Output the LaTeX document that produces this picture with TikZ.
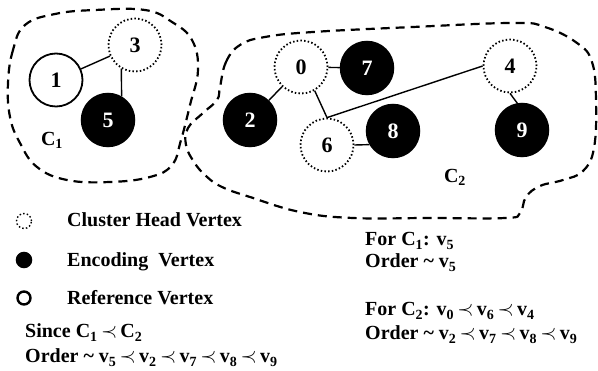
\documentclass[tikz,border=0pt]{standalone}
\usepackage{fontspec}
\setmainfont{Liberation Serif}
\newcommand{\vtx}[1]{v\textsubscript{#1}}
\newcommand{\precsym}{\,$\prec$\,}

\begin{document}
\begin{tikzpicture}[
  x=1pt, y=-1pt,
  font=\bfseries\fontsize{20}{22}\selectfont,
  vertex/.style={circle, draw, minimum size=53pt, inner sep=0pt, line width=1.5pt,
    font=\bfseries\fontsize{22}{22}\selectfont},
  headvertex/.style={vertex, dash pattern=on 1.5pt off 2.2pt, line width=1.8pt},
  codevertex/.style={vertex, fill=black, text=white},
  refvertex/.style={vertex, line width=1.8pt},
  edge/.style={line width=1.4pt},
  cluster/.style={line width=2.2pt, dash pattern=on 9pt off 6pt},
  caption/.style={anchor=base west, inner sep=0pt}
]
  \useasboundingbox (0,0) rectangle (598,371);

  % The two clusters drawn as loose dashed outlines.
  \draw[cluster] plot[smooth cycle, tension=0.7] coordinates {
    (25,25) (13,50) (8,83) (10,117) (20,143) (37,167) (67,180) (110,182)
    (150,177) (172,165) (181,140) (190,105) (198,70) (192,40) (172,22)
    (145,10) (95,10) (55,14)};
  \draw[cluster] plot[smooth cycle, tension=0.7] coordinates {
    (220,87) (226,62) (240,45) (265,37) (313,32) (413,27) (513,23) (545,27)
    (577,43) (592,62) (596,100) (594,148) (583,171) (563,180) (540,186)
    (526,197) (520,213) (505,218) (430,218) (353,218) (300,212) (250,197)
    (222,187) (206,176) (194,162) (186,145) (188,128) (203,113) (217,100)};

  \node (c1label) at (52,140) {C\textsubscript{1}};
  \node (c2label) at (455,177) {C\textsubscript{2}};

  % Cluster heads, encoding vertices and the single reference vertex.
  \foreach \n/\x/\y in {3/135/45, 0/301/67, 6/327/145, 4/510/66} {
    \node[headvertex] (v\n) at (\x,\y) {\n};
  }
  \foreach \n/\x/\y in {5/108/120, 2/250/120, 7/367/68, 8/393/131, 9/522/130} {
    \node[codevertex] (v\n) at (\x,\y) {\n};
  }
  \node[refvertex] (v1) at (56,80) {1};

  \draw[edge] (v1) -- (v3);
  \draw[edge] (v3.240) -- (v5.60);
  \draw[edge] (v0) -- (v2);
  \draw[edge] (v0) -- (v7);
  \draw[edge] (v0.300) -- (v6.north);
  \draw[edge] (v4.west) -- (v6.north);
  \draw[edge] (v6.east) -- (v8.210);
  \draw[edge] (v4.south) -- (v9.100);

  % Key.
  \node[headvertex, minimum size=15pt, line width=1.4pt] (keyhead) at (24,221) {};
  \node[codevertex, minimum size=15pt] (keycode) at (24,260) {};
  \node[refvertex, minimum size=13pt, line width=2.4pt] (keyref) at (24,298) {};
  \node[caption] (keyheadtext) at (67,227) {Cluster Head Vertex};
  \node[caption] (keycodetext) at (67,267) {Encoding\ \ Vertex};
  \node[caption] (keyreftext) at (67,305) {Reference Vertex};

  % Orderings.
  \node[caption] (since) at (25,338) {Since C\textsubscript{1}\precsym C\textsubscript{2}};
  \node[caption] (order) at (25,363)
    {Order \textasciitilde\ \vtx{5}\precsym\vtx{2}\precsym\vtx{7}\precsym\vtx{8}\precsym\vtx{9}};
  \node[caption] (forc1) at (365,246) {For C\textsubscript{1}: \vtx{5}};
  \node[caption] (orderc1) at (365,268) {Order \textasciitilde\ \vtx{5}};
  \node[caption] (forc2) at (365,316) {For C\textsubscript{2}: \vtx{0}\precsym\vtx{6}\precsym\vtx{4}};
  \node[caption] (orderc2) at (365,340)
    {Order \textasciitilde\ \vtx{2}\precsym\vtx{7}\precsym\vtx{8}\precsym\vtx{9}};
\end{tikzpicture}
\end{document}
